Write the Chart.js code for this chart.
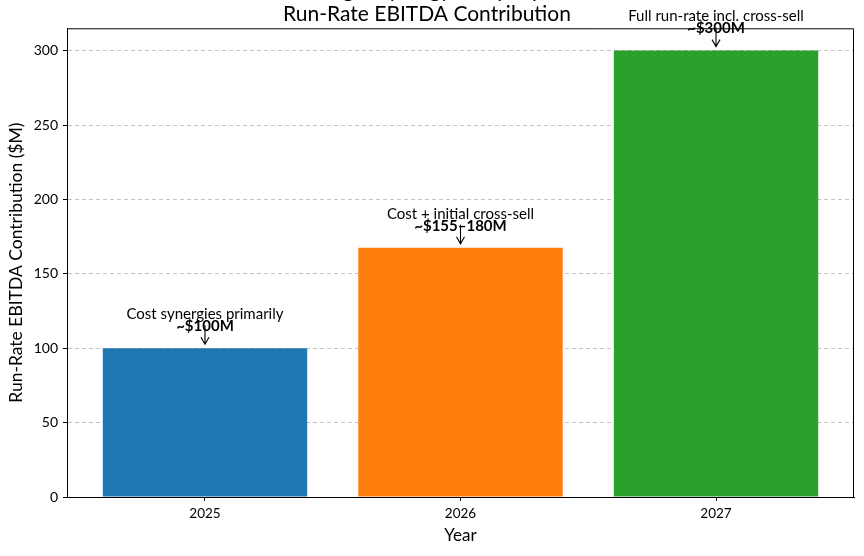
<!DOCTYPE html>
<html>
<head>
<meta charset="utf-8">
<script src="https://cdn.jsdelivr.net/npm/chart.js@4.4.0/dist/chart.umd.min.js"></script>
<style>
html,body{margin:0;padding:0;background:#fff;}
#wrap{width:864px;height:556px;position:relative;}
</style>
</head>
<body>
<div id="wrap"><canvas id="c" width="864" height="556"></canvas></div>
<script>
const years = ['2025', '2026', '2027'];
const values = [100, 167.5, 300];
const valueLabels = ['~$100M', '~$155–180M', '~$300M'];
const notes = ['Cost synergies primarily', 'Cost + initial cross-sell', 'Full run-rate incl. cross-sell'];
const colors = ['#1f77b4', '#ff7f0e', '#2ca02c'];
const yTicks = [0, 50, 100, 150, 200, 250, 300];
const titleLines = ['Merger Synergy Ramp-Up:', 'Run-Rate EBITDA Contribution'];

const FONT = 'Lato';

const frame = {
  id: 'frame',
  afterDatasetsDraw(chart) {
    const {ctx, chartArea: a} = chart;
    ctx.save();
    ctx.strokeStyle = '#000';
    ctx.lineWidth = 1;
    ctx.beginPath();
    ctx.moveTo(a.left, a.top + 0.5);
    ctx.lineTo(a.right - 0.5, a.top + 0.5);
    ctx.lineTo(a.right - 0.5, a.bottom);
    ctx.stroke();
    ctx.restore();
  }
};

const annot = {
  id: 'annot',
  afterDraw(chart) {
    const {ctx} = chart;
    const xs = chart.scales.x, ys = chart.scales.y;
    ctx.save();
    values.forEach((v, i) => {
      const x = xs.getPixelForValue(i);
      const top = ys.getPixelForValue(v);
      ctx.fillStyle = '#000';
      ctx.textAlign = 'center';
      ctx.textBaseline = 'middle';
      ctx.font = `15px ${FONT}`;
      ctx.fillText(notes[i], x, top - 34);
      ctx.font = `bold 15px ${FONT}`;
      ctx.fillText(valueLabels[i], x, top - 22);
      const y0 = top - 23, y1 = top - 4;
      ctx.strokeStyle = '#000';
      ctx.lineWidth = 1.1;
      ctx.beginPath();
      ctx.moveTo(x, y0);
      ctx.lineTo(x, y1);
      ctx.moveTo(x - 4, y1 - 7);
      ctx.lineTo(x, y1);
      ctx.lineTo(x + 4, y1 - 7);
      ctx.stroke();
    });
    ctx.restore();
  }
};

new Chart(document.getElementById('c'), {
  type: 'bar',
  data: {
    datasets: [{
      data: years.map((y, i) => ({x: i, y: values[i]})),
      backgroundColor: colors,
      borderWidth: 0,
      barPercentage: 0.8,
      categoryPercentage: 1.0
    }]
  },
  options: {
    responsive: false,
    animation: false,
    devicePixelRatio: 1,
    layout: {padding: {left: 0, right: 10, top: 0, bottom: 0}},
    plugins: {
      legend: {display: false},
      tooltip: {enabled: false},
      title: {
        display: true,
        text: titleLines,
        color: '#000',
        font: {family: FONT, size: 21, weight: 'normal', lineHeight: 1.15},
        padding: {top: -22, bottom: 2}
      }
    },
    scales: {
      x: {
        type: 'linear',
        offset: false,
        min: -0.54,
        max: 2.54,
        afterBuildTicks(scale) { scale.ticks = years.map((y, i) => ({value: i})); },
        afterFit(scale) { scale.height = 59; },
        ticks: {
          callback: (v) => years[v] ?? '',
          color: '#000',
          font: {family: FONT, size: 13.5},
          padding: 5
        },
        grid: {display: true, offset: false, drawOnChartArea: false, tickLength: 4, tickColor: '#000', tickWidth: 1},
        border: {display: true, color: '#000', width: 1},
        title: {
          display: true, text: 'Year', color: '#000',
          font: {family: FONT, size: 17},
          padding: {top: 0, bottom: 10}
        }
      },
      y: {
        min: 0,
        max: 315,
        afterBuildTicks(scale) { scale.ticks = yTicks.map(v => ({value: v})); },
        afterFit(scale) { scale.width = 67; },
        ticks: {
          color: '#000',
          font: {family: FONT, size: 14},
          padding: 5
        },
        grid: {
          color: (c) => c.tick && c.tick.value === 0 ? 'rgba(0,0,0,0)' : 'rgba(176,176,176,0.75)',
          lineWidth: 1,
          tickLength: 4,
          tickColor: '#000',
          tickBorderDash: [],
          tickWidth: 1
        },
        border: {display: true, color: '#000', width: 1, dash: [4, 3]},
        title: {
          display: true, text: 'Run-Rate EBITDA Contribution ($M)', color: '#000',
          font: {family: FONT, size: 17.5},
          padding: {top: 6, bottom: 0}
        }
      }
    }
  },
  plugins: [frame, annot]
});
</script>
</body>
</html>
